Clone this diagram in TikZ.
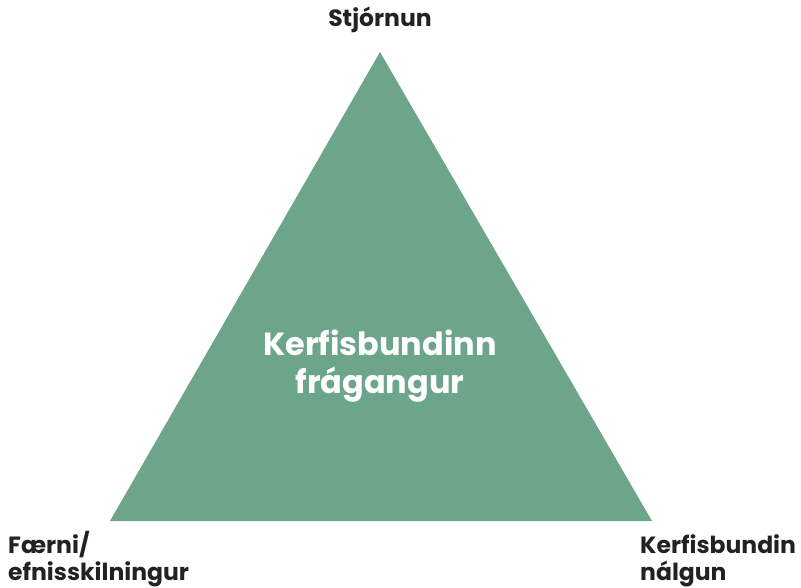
\documentclass[tikz,border=0pt]{standalone}
\usepackage{fontspec}
\setmainfont{Poppins}
\definecolor{triGreen}{HTML}{6CA58A}
\definecolor{labelInk}{HTML}{222222}
\begin{document}
\begin{tikzpicture}[x=1pt,y=-1pt,
  cornerlabel/.style={font=\fontsize{23.5}{27}\selectfont\bfseries, text=labelInk, inner sep=0pt},
  centerlabel/.style={font=\fontsize{32}{37.5}\selectfont\bfseries, text=white, align=center, inner sep=0pt}]
  \useasboundingbox (0,0) rectangle (801,588);
  % the triangle
  \coordinate (apex) at (380,52);
  \coordinate (bl) at (110,521);
  \coordinate (br) at (652,521);
  \fill[triGreen] (apex) -- (bl) -- (br) -- cycle;
  % labels (multi-line base anchors sit on the last line)
  \node[centerlabel] (mid) at (380,366) {Kerfisbundinn\\frágangur};
  \node[cornerlabel, anchor=base] (top) at (380,27) {Stjórnun};
  \node[cornerlabel, anchor=base west, align=left] (left) at (8,580) {Færni/\\efnisskilningur};
  \node[cornerlabel, anchor=base west, align=left] (right) at (640,580) {Kerfisbundin\\nálgun};
\end{tikzpicture}
\end{document}
